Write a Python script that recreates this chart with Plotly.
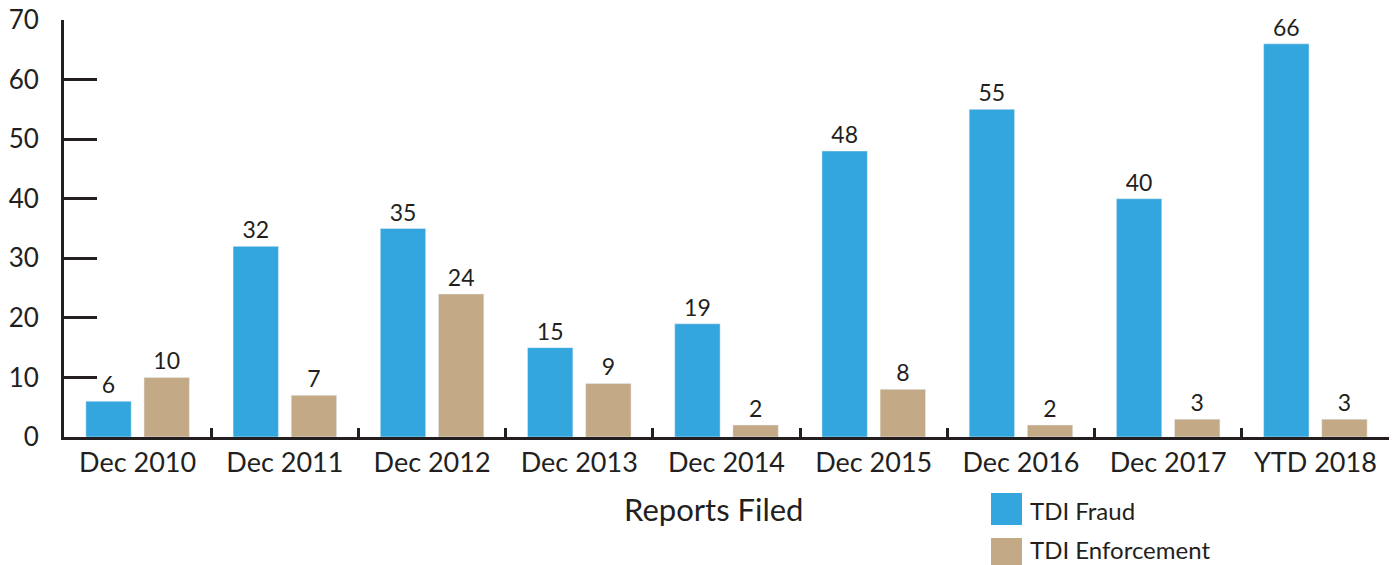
import plotly.graph_objects as go

categories = ["Dec 2010", "Dec 2011", "Dec 2012", "Dec 2013", "Dec 2014",
              "Dec 2015", "Dec 2016", "Dec 2017", "YTD 2018"]
fraud = [6, 32, 35, 15, 19, 48, 55, 40, 66]
enforcement = [10, 7, 24, 9, 2, 8, 2, 3, 3]
series_names = ["TDI Fraud", "TDI Enforcement"]
colors = ["#33A6DD", "#C3A985"]

W, H = 1400, 565
L, R, T, B = 64, 1389, 20, 437
FONT = "Lato, Open Sans, sans-serif"
INK = "#231F20"


def px(x):
    return (x - L) / (R - L)


def py(y):
    return (B - y) / (B - T)


fig = go.Figure()
for name, vals, col in zip(series_names, [fraud, enforcement], colors):
    fig.add_trace(go.Bar(
        x=categories, y=vals, name=name, marker_color=col,
        text=[str(v) for v in vals], textposition="outside",
        textfont=dict(size=23, color=INK, family=FONT),
        cliponaxis=False, showlegend=False, hoverinfo="skip",
    ))

fig.update_layout(
    width=W, height=H,
    margin=dict(l=L, r=W - R, t=T, b=H - B),
    plot_bgcolor="white", paper_bgcolor="white",
    barmode="group", bargap=0.21, bargroupgap=0.22,
    font=dict(family=FONT, color=INK),
    xaxis=dict(
        showline=True, linecolor=INK, linewidth=3, automargin=False,
        ticks="inside", tickson="boundaries", ticklen=9, tickwidth=3,
        tickcolor=INK, tickfont=dict(size=27, color=INK), showgrid=False,
    ),
    yaxis=dict(
        range=[0, 70], dtick=10, showline=True, linecolor=INK, linewidth=3,
        automargin=False,
        ticks="inside", ticklen=33, tickwidth=3, tickcolor=INK,
        tickfont=dict(size=26, color=INK), showgrid=False, zeroline=False,
        ticklabelstandoff=17,
    ),
)

annotations = [
    dict(x=px(713), y=py(509), xref="paper", yref="paper", text="Reports Filed",
         showarrow=False, font=dict(size=31, color=INK, family=FONT),
         xanchor="center", yanchor="middle"),
]
shapes = []
legend_rows = [(493, 525, 510), (538, 570, 549)]
for (y0, y1, yc), name, col in zip(legend_rows, series_names, colors):
    shapes.append(dict(type="rect", xref="paper", yref="paper",
                       x0=px(991), x1=px(1022), y0=py(y1), y1=py(y0),
                       fillcolor=col, line=dict(width=0)))
    annotations.append(dict(x=px(1029), y=py(yc), xref="paper", yref="paper",
                            text=name, showarrow=False, xanchor="left",
                            yanchor="middle", borderpad=0,
                            font=dict(size=24, color=INK, family=FONT)))

fig.update_layout(annotations=annotations, shapes=shapes)
fig.write_html("out.html",
               config={"displayModeBar": False},
               post_script="document.body.style.margin='0px';"
                           "document.body.style.overflow='hidden';")
